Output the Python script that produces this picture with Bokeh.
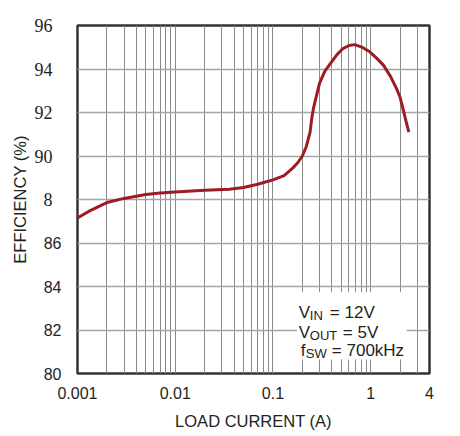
from bokeh.plotting import figure
from bokeh.models import Range1d, FixedTicker, Label, BoxAnnotation, LinearAxis
from bokeh.embed import file_html
from bokeh.resources import INLINE

# efficiency curve
load_current = [0.001, 0.0013, 0.0016, 0.002, 0.003, 0.005, 0.007, 0.01, 0.02, 0.036,
                0.05, 0.07, 0.1, 0.13, 0.16, 0.18, 0.2, 0.22, 0.24, 0.25, 0.26, 0.28,
                0.30, 0.34, 0.38, 0.45, 0.52, 0.6, 0.685, 0.8, 0.98, 1.15, 1.35, 1.6,
                1.83, 2.0, 2.15, 2.3, 2.46]
efficiency = [87.15, 87.45, 87.65, 87.86, 88.05, 88.23, 88.3, 88.35, 88.42, 88.47,
              88.55, 88.7, 88.9, 89.1, 89.45, 89.7, 90.0, 90.45, 91.1, 91.75, 92.2, 92.8,
              93.35, 93.9, 94.2, 94.65, 94.94, 95.08, 95.12, 95.02, 94.79, 94.5, 94.18, 93.65,
              93.12, 92.7, 92.14, 91.6, 91.1]

x_ticks = [0.001, 0.01, 0.1, 1, 4]
x_tick_labels = ["0.001", "0.01", "0.1", "1", "4"]
y_ticks = [80, 82, 84, 86, 88, 90, 92, 94, 96]
y_tick_labels = ["80", "82", "84", "86", "8", "90", "92", "94", "96"]
serif_from = 88  # upper tick labels are set in a serif face

grid_x = [m * 10.0 ** e for e in (-3, -2, -1) for m in range(1, 10)] + [1, 2, 3]

INK = "#231f20"
SANS = "Liberation Sans"

p = figure(width=452, height=432, x_axis_type="log",
           x_range=Range1d(0.001, 4), y_range=Range1d(80, 96),
           output_backend="svg", toolbar_location=None,
           min_border_left=77, min_border_right=23, min_border_top=25, min_border_bottom=55)

p.outline_line_color = "#333333"
p.outline_line_width = 2.5
p.background_fill_color = "white"

# grid
p.xgrid.ticker = FixedTicker(ticks=grid_x)
p.xgrid.grid_line_color = "#8a8a8a"
p.xgrid.grid_line_width = 1
p.ygrid.ticker = FixedTicker(ticks=y_ticks)
p.ygrid.grid_line_color = "#a4a4a4"
p.ygrid.grid_line_width = 1.5


def style_axis(ax, font, size):
    ax.axis_line_color = None
    ax.major_tick_line_color = None
    ax.minor_tick_line_color = None
    ax.major_label_text_font = font
    ax.major_label_text_font_size = size
    ax.major_label_text_color = INK
    ax.axis_label_text_font = SANS
    ax.axis_label_text_font_size = "16.5px"
    ax.axis_label_text_font_style = "normal"
    ax.axis_label_text_color = INK


style_axis(p.xaxis, SANS, "16px")
p.xaxis.ticker = FixedTicker(ticks=x_ticks)
p.xaxis.major_label_overrides = dict(zip(x_ticks, x_tick_labels))
p.xaxis.major_label_standoff = 7
p.xaxis.axis_label = "LOAD CURRENT (A)"
p.xaxis.axis_label_standoff = 10

# inner y axis: lower labels (sans)
style_axis(p.yaxis, SANS, "16px")
p.yaxis.ticker = FixedTicker(ticks=y_ticks)
p.yaxis.major_label_overrides = {t: (lab if t < serif_from else "")
                                 for t, lab in zip(y_ticks, y_tick_labels)}
p.yaxis.major_label_standoff = 10

# outer y axis: upper labels (serif), pulled back over the inner one
ax2 = LinearAxis(ticker=FixedTicker(ticks=y_ticks))
style_axis(ax2, "Liberation Serif", "18px")
ax2.major_label_overrides = {t: (lab if t >= serif_from else "")
                             for t, lab in zip(y_ticks, y_tick_labels)}
ax2.major_label_standoff = -18
ax2.axis_label = "EFFICIENCY (%)"
ax2.axis_label_standoff = 3
p.add_layout(ax2, "left")

# curve
p.line(load_current, efficiency, line_color="#9d1c24", line_width=3)

# conditions box
p.add_layout(BoxAnnotation(left=0.176, right=2.34, bottom=80.64, top=83.73,
                           fill_color="white", fill_alpha=1, line_color=None))

ANN_X, ANN_Y = 0.184, 82.82
pieces = [
    ("V", 0, 0, 17), ("IN", 11, -3, 13), ("= 12V", 31, 0, 17),
    ("V", 0, -20, 17), ("OUT", 11, -23, 13), ("= 5V", 44, -20, 17),
    ("f", 2, -38, 17), ("SW", 7, -41, 13), ("= 700kHz", 33, -38, 17),
]
for txt, dx, dy, size in pieces:
    p.add_layout(Label(x=ANN_X, y=ANN_Y, text=txt, x_offset=dx, y_offset=dy,
                       text_align="left", text_baseline="alphabetic",
                       text_font=SANS, text_font_size="%dpx" % size,
                       text_color=INK))

open("out.html", "w").write(file_html(p, INLINE))
